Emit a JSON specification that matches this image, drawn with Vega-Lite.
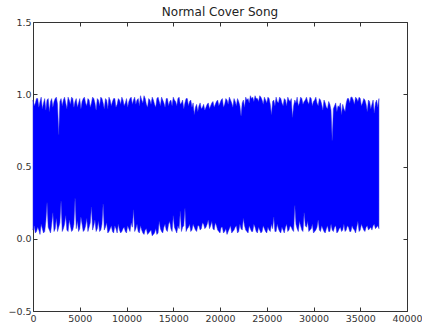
{
  "$schema": "https://vega.github.io/schema/vega-lite/v6.json",
  "width": 374,
  "height": 289,
  "autosize": "none",
  "padding": {"left": 33, "top": 22, "right": 15, "bottom": 19},
  "title": {"text": "Normal Cover Song", "fontSize": 12, "font": "DejaVu Sans", "fontWeight": "normal", "color": "#222222", "offset": -2, "anchor": "middle"},
  "config": {
    "view": {"stroke": "#333333", "strokeWidth": 1},
    "axis": {"domain": false, "grid": false, "labelFont": "DejaVu Sans", "labelFontSize": 9.5, "labelColor": "#333333", "tickColor": "#333333", "tickSize": -4, "labelPadding": 6, "labelOverlap": false, "labelFlush": false}
  },
  "data": {"values": [
    {"x":0,"hi":0.96,"lo":0.06},{"x":125,"hi":0.92,"lo":0.09},{"x":250,"hi":0.94,"lo":0.04},{"x":375,"hi":0.97,"lo":0.05},
    {"x":500,"hi":0.97,"lo":0.08},{"x":625,"hi":0.91,"lo":0.06},{"x":750,"hi":0.95,"lo":0.03},{"x":875,"hi":0.98,"lo":0.10},
    {"x":1000,"hi":0.90,"lo":0.07},{"x":1125,"hi":0.94,"lo":0.04},{"x":1250,"hi":0.97,"lo":0.05},{"x":1375,"hi":0.89,"lo":0.12},
    {"x":1500,"hi":0.96,"lo":0.25},{"x":1625,"hi":0.97,"lo":0.08},{"x":1750,"hi":0.88,"lo":0.06},{"x":1875,"hi":0.95,"lo":0.04},
    {"x":2000,"hi":0.97,"lo":0.10},{"x":2125,"hi":0.91,"lo":0.18},{"x":2250,"hi":0.95,"lo":0.05},{"x":2375,"hi":0.97,"lo":0.07},
    {"x":2500,"hi":0.98,"lo":0.14},{"x":2625,"hi":0.93,"lo":0.05},{"x":2750,"hi":0.72,"lo":0.08},{"x":2875,"hi":0.95,"lo":0.11},
    {"x":3000,"hi":0.97,"lo":0.26},{"x":3125,"hi":0.92,"lo":0.05},{"x":3250,"hi":0.96,"lo":0.07},{"x":3375,"hi":0.98,"lo":0.10},
    {"x":3500,"hi":0.94,"lo":0.16},{"x":3625,"hi":0.90,"lo":0.06},{"x":3750,"hi":0.98,"lo":0.05},{"x":3875,"hi":0.96,"lo":0.13},
    {"x":4000,"hi":0.93,"lo":0.09},{"x":4125,"hi":0.98,"lo":0.05},{"x":4250,"hi":0.97,"lo":0.06},{"x":4375,"hi":0.91,"lo":0.10},
    {"x":4500,"hi":0.95,"lo":0.28},{"x":4625,"hi":0.97,"lo":0.07},{"x":4750,"hi":0.91,"lo":0.12},{"x":4875,"hi":0.94,"lo":0.05},
    {"x":5000,"hi":0.97,"lo":0.07},{"x":5125,"hi":0.90,"lo":0.15},{"x":5250,"hi":0.95,"lo":0.10},{"x":5375,"hi":0.97,"lo":0.05},
    {"x":5500,"hi":0.98,"lo":0.06},{"x":5625,"hi":0.94,"lo":0.09},{"x":5750,"hi":0.92,"lo":0.14},{"x":5875,"hi":0.97,"lo":0.05},
    {"x":6000,"hi":0.96,"lo":0.08},{"x":6125,"hi":0.91,"lo":0.11},{"x":6250,"hi":0.94,"lo":0.22},{"x":6375,"hi":0.98,"lo":0.06},
    {"x":6500,"hi":0.97,"lo":0.09},{"x":6625,"hi":0.94,"lo":0.13},{"x":6750,"hi":0.89,"lo":0.05},{"x":6875,"hi":0.97,"lo":0.07},
    {"x":7000,"hi":0.96,"lo":0.12},{"x":7125,"hi":0.92,"lo":0.05},{"x":7250,"hi":0.98,"lo":0.06},{"x":7375,"hi":0.97,"lo":0.10},
    {"x":7500,"hi":0.94,"lo":0.24},{"x":7625,"hi":0.90,"lo":0.06},{"x":7750,"hi":0.97,"lo":0.08},{"x":7875,"hi":0.96,"lo":0.11},
    {"x":8000,"hi":0.90,"lo":0.04},{"x":8125,"hi":0.98,"lo":0.05},{"x":8250,"hi":0.96,"lo":0.07},{"x":8375,"hi":0.92,"lo":0.09},
    {"x":8500,"hi":0.95,"lo":0.05},{"x":8625,"hi":0.97,"lo":0.04},{"x":8750,"hi":0.97,"lo":0.09},{"x":8875,"hi":0.91,"lo":0.07},
    {"x":9000,"hi":0.93,"lo":0.04},{"x":9125,"hi":0.97,"lo":0.10},{"x":9250,"hi":0.96,"lo":0.06},{"x":9375,"hi":0.93,"lo":0.04},
    {"x":9500,"hi":0.98,"lo":0.05},{"x":9625,"hi":0.96,"lo":0.07},{"x":9750,"hi":0.92,"lo":0.08},{"x":9875,"hi":0.94,"lo":0.05},
    {"x":10000,"hi":0.97,"lo":0.04},{"x":10125,"hi":0.91,"lo":0.09},{"x":10250,"hi":0.95,"lo":0.07},{"x":10375,"hi":0.97,"lo":0.05},
    {"x":10500,"hi":0.98,"lo":0.11},{"x":10625,"hi":0.93,"lo":0.08},{"x":10750,"hi":0.96,"lo":0.20},{"x":10875,"hi":0.98,"lo":0.05},
    {"x":11000,"hi":0.93,"lo":0.07},{"x":11125,"hi":0.96,"lo":0.10},{"x":11250,"hi":0.97,"lo":0.05},{"x":11375,"hi":0.92,"lo":0.04},
    {"x":11500,"hi":0.99,"lo":0.09},{"x":11625,"hi":0.96,"lo":0.06},{"x":11750,"hi":0.94,"lo":0.04},{"x":11875,"hi":0.99,"lo":0.03},
    {"x":12000,"hi":0.97,"lo":0.06},{"x":12125,"hi":0.93,"lo":0.07},{"x":12250,"hi":0.91,"lo":0.03},{"x":12375,"hi":0.97,"lo":0.04},
    {"x":12500,"hi":0.96,"lo":0.05},{"x":12625,"hi":0.93,"lo":0.06},{"x":12750,"hi":0.98,"lo":0.02},{"x":12875,"hi":0.96,"lo":0.03},
    {"x":13000,"hi":0.93,"lo":0.04},{"x":13125,"hi":0.91,"lo":0.07},{"x":13250,"hi":0.97,"lo":0.03},{"x":13375,"hi":0.98,"lo":0.04},
    {"x":13500,"hi":0.95,"lo":0.12},{"x":13625,"hi":0.92,"lo":0.07},{"x":13750,"hi":0.98,"lo":0.05},{"x":13875,"hi":0.96,"lo":0.04},
    {"x":14000,"hi":0.94,"lo":0.08},{"x":14125,"hi":0.91,"lo":0.10},{"x":14250,"hi":0.97,"lo":0.06},{"x":14375,"hi":0.97,"lo":0.05},
    {"x":14500,"hi":0.92,"lo":0.10},{"x":14625,"hi":0.95,"lo":0.12},{"x":14750,"hi":0.96,"lo":0.07},{"x":14875,"hi":0.92,"lo":0.05},
    {"x":15000,"hi":0.98,"lo":0.16},{"x":15125,"hi":0.96,"lo":0.08},{"x":15250,"hi":0.95,"lo":0.06},{"x":15375,"hi":0.92,"lo":0.04},
    {"x":15500,"hi":0.97,"lo":0.09},{"x":15625,"hi":0.98,"lo":0.07},{"x":15750,"hi":0.93,"lo":0.19},{"x":15875,"hi":0.94,"lo":0.05},
    {"x":16000,"hi":0.96,"lo":0.08},{"x":16125,"hi":0.90,"lo":0.09},{"x":16250,"hi":0.94,"lo":0.21},{"x":16375,"hi":0.97,"lo":0.05},
    {"x":16500,"hi":0.97,"lo":0.07},{"x":16625,"hi":0.92,"lo":0.08},{"x":16750,"hi":0.95,"lo":0.10},{"x":16875,"hi":0.96,"lo":0.05},
    {"x":17000,"hi":0.91,"lo":0.06},{"x":17125,"hi":0.94,"lo":0.10},{"x":17250,"hi":0.86,"lo":0.08},{"x":17375,"hi":0.91,"lo":0.06},
    {"x":17500,"hi":0.93,"lo":0.05},{"x":17625,"hi":0.88,"lo":0.09},{"x":17750,"hi":0.92,"lo":0.09},{"x":17875,"hi":0.94,"lo":0.06},
    {"x":18000,"hi":0.90,"lo":0.07},{"x":18125,"hi":0.91,"lo":0.11},{"x":18250,"hi":0.93,"lo":0.10},{"x":18375,"hi":0.89,"lo":0.07},
    {"x":18500,"hi":0.91,"lo":0.08},{"x":18625,"hi":0.93,"lo":0.10},{"x":18750,"hi":0.94,"lo":0.13},{"x":18875,"hi":0.90,"lo":0.07},
    {"x":19000,"hi":0.92,"lo":0.09},{"x":19125,"hi":0.94,"lo":0.12},{"x":19250,"hi":0.95,"lo":0.07},{"x":19375,"hi":0.91,"lo":0.06},
    {"x":19500,"hi":0.93,"lo":0.11},{"x":19625,"hi":0.95,"lo":0.09},{"x":19750,"hi":0.96,"lo":0.06},{"x":19875,"hi":0.92,"lo":0.05},
    {"x":20000,"hi":0.94,"lo":0.04},{"x":20125,"hi":0.96,"lo":0.08},{"x":20250,"hi":0.97,"lo":0.08},{"x":20375,"hi":0.91,"lo":0.04},
    {"x":20500,"hi":0.93,"lo":0.05},{"x":20625,"hi":0.97,"lo":0.07},{"x":20750,"hi":0.96,"lo":0.03},{"x":20875,"hi":0.93,"lo":0.05},
    {"x":21000,"hi":0.98,"lo":0.07},{"x":21125,"hi":0.96,"lo":0.09},{"x":21250,"hi":0.94,"lo":0.04},{"x":21375,"hi":0.91,"lo":0.05},
    {"x":21500,"hi":0.97,"lo":0.06},{"x":21625,"hi":0.95,"lo":0.08},{"x":21750,"hi":0.92,"lo":0.09},{"x":21875,"hi":0.97,"lo":0.04},
    {"x":22000,"hi":0.95,"lo":0.05},{"x":22125,"hi":0.92,"lo":0.10},{"x":22250,"hi":0.85,"lo":0.07},{"x":22375,"hi":0.94,"lo":0.06},
    {"x":22500,"hi":0.96,"lo":0.14},{"x":22625,"hi":0.91,"lo":0.09},{"x":22750,"hi":0.98,"lo":0.06},{"x":22875,"hi":0.96,"lo":0.05},
    {"x":23000,"hi":0.97,"lo":0.04},{"x":23125,"hi":0.94,"lo":0.09},{"x":23250,"hi":0.99,"lo":0.07},{"x":23375,"hi":0.97,"lo":0.05},
    {"x":23500,"hi":0.98,"lo":0.05},{"x":23625,"hi":0.95,"lo":0.10},{"x":23750,"hi":0.99,"lo":0.08},{"x":23875,"hi":0.97,"lo":0.05},
    {"x":24000,"hi":0.97,"lo":0.04},{"x":24125,"hi":0.95,"lo":0.08},{"x":24250,"hi":0.99,"lo":0.06},{"x":24375,"hi":0.98,"lo":0.04},
    {"x":24500,"hi":0.96,"lo":0.05},{"x":24625,"hi":0.93,"lo":0.09},{"x":24750,"hi":0.98,"lo":0.07},{"x":24875,"hi":0.96,"lo":0.05},
    {"x":25000,"hi":0.94,"lo":0.04},{"x":25125,"hi":0.98,"lo":0.08},{"x":25250,"hi":0.97,"lo":0.06},{"x":25375,"hi":0.93,"lo":0.05},
    {"x":25500,"hi":0.86,"lo":0.10},{"x":25625,"hi":0.95,"lo":0.07},{"x":25750,"hi":0.96,"lo":0.15},{"x":25875,"hi":0.92,"lo":0.05},
    {"x":26000,"hi":0.98,"lo":0.05},{"x":26125,"hi":0.95,"lo":0.10},{"x":26250,"hi":0.94,"lo":0.07},{"x":26375,"hi":0.98,"lo":0.05},
    {"x":26500,"hi":0.97,"lo":0.04},{"x":26625,"hi":0.94,"lo":0.08},{"x":26750,"hi":0.92,"lo":0.06},{"x":26875,"hi":0.97,"lo":0.04},
    {"x":27000,"hi":0.96,"lo":0.08},{"x":27125,"hi":0.92,"lo":0.10},{"x":27250,"hi":0.98,"lo":0.05},{"x":27375,"hi":0.96,"lo":0.06},
    {"x":27500,"hi":0.95,"lo":0.09},{"x":27625,"hi":0.97,"lo":0.08},{"x":27750,"hi":0.84,"lo":0.06},{"x":27875,"hi":0.92,"lo":0.05},
    {"x":28000,"hi":0.96,"lo":0.23},{"x":28125,"hi":0.94,"lo":0.10},{"x":28250,"hi":0.98,"lo":0.07},{"x":28375,"hi":0.92,"lo":0.05},
    {"x":28500,"hi":0.94,"lo":0.12},{"x":28625,"hi":0.98,"lo":0.09},{"x":28750,"hi":0.97,"lo":0.06},{"x":28875,"hi":0.93,"lo":0.05},
    {"x":29000,"hi":0.95,"lo":0.18},{"x":29125,"hi":0.96,"lo":0.09},{"x":29250,"hi":0.98,"lo":0.08},{"x":29375,"hi":0.95,"lo":0.12},
    {"x":29500,"hi":0.93,"lo":0.05},{"x":29625,"hi":0.98,"lo":0.06},{"x":29750,"hi":0.97,"lo":0.07},{"x":29875,"hi":0.92,"lo":0.10},
    {"x":30000,"hi":0.95,"lo":0.04},{"x":30125,"hi":0.96,"lo":0.05},{"x":30250,"hi":0.98,"lo":0.06},{"x":30375,"hi":0.94,"lo":0.08},
    {"x":30500,"hi":0.92,"lo":0.13},{"x":30625,"hi":0.97,"lo":0.06},{"x":30750,"hi":0.96,"lo":0.05},{"x":30875,"hi":0.93,"lo":0.09},
    {"x":31000,"hi":0.89,"lo":0.07},{"x":31125,"hi":0.96,"lo":0.05},{"x":31250,"hi":0.94,"lo":0.04},{"x":31375,"hi":0.91,"lo":0.07},
    {"x":31500,"hi":0.90,"lo":0.09},{"x":31625,"hi":0.95,"lo":0.05},{"x":31750,"hi":0.93,"lo":0.05},{"x":31875,"hi":0.89,"lo":0.10},
    {"x":32000,"hi":0.68,"lo":0.06},{"x":32125,"hi":0.90,"lo":0.05},{"x":32250,"hi":0.92,"lo":0.08},{"x":32375,"hi":0.94,"lo":0.09},
    {"x":32500,"hi":0.88,"lo":0.04},{"x":32625,"hi":0.92,"lo":0.05},{"x":32750,"hi":0.91,"lo":0.07},{"x":32875,"hi":0.94,"lo":0.08},
    {"x":33000,"hi":0.86,"lo":0.05},{"x":33125,"hi":0.93,"lo":0.06},{"x":33250,"hi":0.90,"lo":0.10},{"x":33375,"hi":0.88,"lo":0.05},
    {"x":33500,"hi":0.94,"lo":0.06},{"x":33625,"hi":0.97,"lo":0.09},{"x":33750,"hi":0.97,"lo":0.08},{"x":33875,"hi":0.94,"lo":0.05},
    {"x":34000,"hi":0.98,"lo":0.05},{"x":34125,"hi":0.98,"lo":0.09},{"x":34250,"hi":0.96,"lo":0.07},{"x":34375,"hi":0.93,"lo":0.06},
    {"x":34500,"hi":0.98,"lo":0.04},{"x":34625,"hi":0.97,"lo":0.08},{"x":34750,"hi":0.95,"lo":0.12},{"x":34875,"hi":0.98,"lo":0.05},
    {"x":35000,"hi":0.97,"lo":0.06},{"x":35125,"hi":0.92,"lo":0.10},{"x":35250,"hi":0.94,"lo":0.08},{"x":35375,"hi":0.97,"lo":0.06},
    {"x":35500,"hi":0.96,"lo":0.05},{"x":35625,"hi":0.93,"lo":0.08},{"x":35750,"hi":0.88,"lo":0.09},{"x":35875,"hi":0.96,"lo":0.06},
    {"x":36000,"hi":0.95,"lo":0.07},{"x":36125,"hi":0.90,"lo":0.08},{"x":36250,"hi":0.93,"lo":0.06},{"x":36375,"hi":0.96,"lo":0.09},
    {"x":36500,"hi":0.87,"lo":0.10},{"x":36625,"hi":0.94,"lo":0.07},{"x":36750,"hi":0.96,"lo":0.08},{"x":36875,"hi":0.91,"lo":0.09},
    {"x":37000,"hi":0.97,"lo":0.07}
  ]},
  "layer": [
    {
      "mark": {"type": "area", "color": "#0000ff", "stroke": "#2a2ae6", "strokeWidth": 0.5},
      "encoding": {
        "x": {"field": "x", "type": "quantitative", "scale": {"domain": [0, 40000], "nice": false},
              "axis": {"orient": "bottom", "values": [0,5000,10000,15000,20000,25000,30000,35000,40000], "format": "d", "title": null}},
        "y": {"field": "hi", "type": "quantitative", "scale": {"domain": [-0.5, 1.5], "nice": false, "zero": false},
              "axis": {"orient": "left", "values": [-0.5,0,0.5,1,1.5], "format": ".1f", "title": null}},
        "y2": {"field": "lo"}
      }
    },
    {
      "mark": {"type": "point", "opacity": 0},
      "encoding": {
        "x": {"field": "x", "type": "quantitative", "scale": {"domain": [0, 40000], "nice": false},
              "axis": {"orient": "top", "values": [0,5000,10000,15000,20000,25000,30000,35000,40000], "labels": false, "title": null}},
        "y": {"field": "hi", "type": "quantitative", "scale": {"domain": [-0.5, 1.5], "nice": false, "zero": false},
              "axis": {"orient": "right", "values": [-0.5,0,0.5,1,1.5], "labels": false, "title": null}}
      }
    }
  ],
  "resolve": {"axis": {"x": "independent", "y": "independent"}}
}
